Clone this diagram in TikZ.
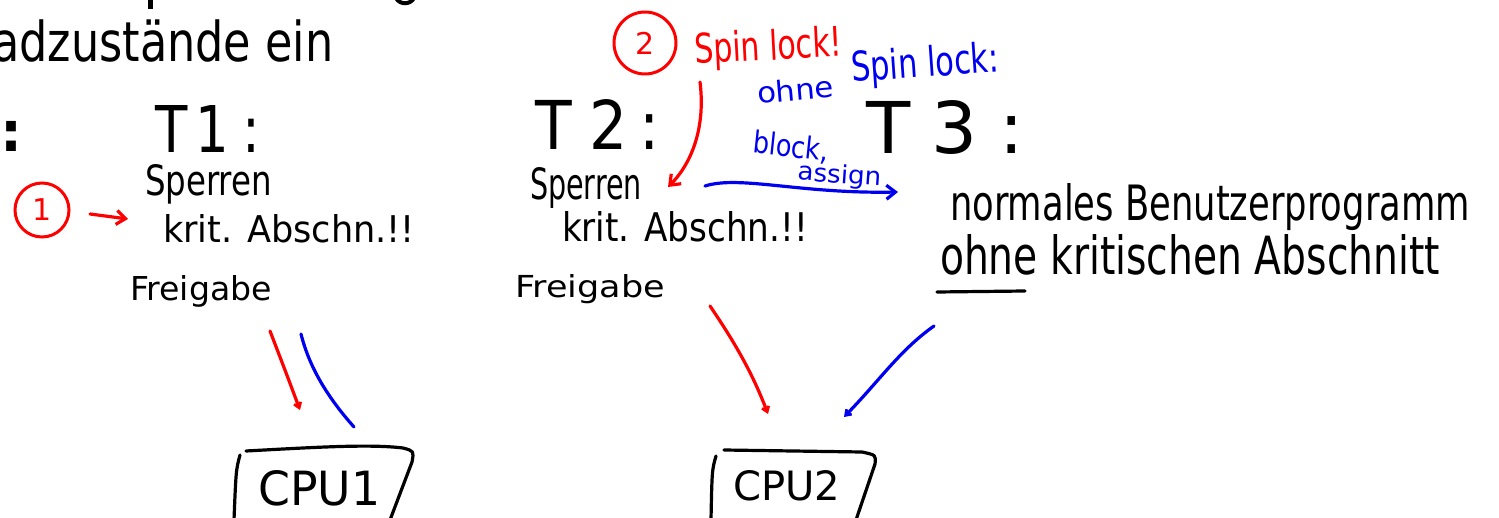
\documentclass[tikz,border=0pt]{standalone}
\usepackage{fontspec}
\setmainfont{DejaVu Sans}
\usepackage{graphicx}
\usetikzlibrary{arrows.meta}
\definecolor{ink}{HTML}{000000}
\definecolor{penred}{HTML}{FF0000}
\definecolor{penblue}{HTML}{0000F0}
% set a text to a given width and height above the baseline (in pt)
\newcommand\fitwh[3]{\resizebox{#1pt}{#2pt}{#3}}
\begin{document}
\begin{tikzpicture}[x=1pt,y=-1pt,
  hand/.style={inner sep=0pt, outer sep=0pt, anchor=base west, text=ink,
    font=\fontsize{30}{30}\selectfont},
  redhand/.style={hand, text=penred},
  bluehand/.style={hand, text=penblue},
  slide/.style={inner sep=0pt, anchor=base west, text=ink,
    font=\fontsize{55}{55}\selectfont},
  pen/.style={line width=3.2pt, line cap=round, line join=round, draw=ink},
  redpen/.style={pen, draw=penred},
  bluepen/.style={pen, draw=penblue},
  tip/.style={-{Straight Barb[length=9pt,width=14pt,line width=3.2pt]}},
  smalltip/.style={-{Straight Barb[length=5pt,width=7pt,line width=2.8pt]}},
  numcircle/.style={circle, draw=penred, line width=3pt, text=penred,
    minimum size=54pt, inner sep=0pt, font=\fontsize{30}{30}\selectfont},
  cpulabel/.style={inner sep=0pt, anchor=base west, text=ink,
    font=\fontsize{30}{30}\selectfont}]
\useasboundingbox (0,0) rectangle (1499,518);

% slide text
\node[slide] (head) at (-8,62) {\scalebox{0.81}[1]{adzustände ein}};
\node[slide, font=\fontsize{55}{55}\bfseries\selectfont] (colon) at (0,152) {:};
% descenders of the line above
\draw[line width=5pt] (150,-2) -- (150,9);
\draw[line width=4pt] (396,-2) .. controls (400,5) and (410,5) .. (414,-2);

% thread T1
\node[hand] (t1) at (155,153) {\fitwh{105}{47}{T\hspace{0.15em}1\hspace{0.25em}:}};
\node[hand] (sp1) at (145,196) {\fitwh{127}{31}{Sperren}};
\node[hand] (ka1) at (163,243) {\fitwh{252}{28}{krit. Abschn.!!}};
\node[hand] (fr1) at (130,301) {\fitwh{142}{25}{Freigabe}};

% thread T2
\node[hand] (t2) at (535,150) {\fitwh{125}{50}{T\hspace{0.3em}2\hspace{0.2em}:}};
\node[hand] (sp2) at (530,200) {\fitwh{112}{32}{Sperren}};
\node[hand] (ka2) at (562,242) {\fitwh{246}{30}{krit. Abschn.!!}};
\node[hand] (fr2) at (515,298) {\fitwh{150}{23}{Freigabe}};

% thread T3
\node[hand] (t3) at (866,154) {\fitwh{158}{53}{T\hspace{0.3em}3\hspace{0.3em}:}};
\node[hand] (nb) at (950,221) {\fitwh{520}{37}{normales Benutzerprogramm}};
\node[hand] (ok) at (940,275) {\fitwh{500}{40}{ohne kritischen Abschnitt}};
\draw[pen] (937,292) -- (1025,291);

% step 1
\node[numcircle] (n1) at (42,210) {1};
\draw[redpen, tip] (90,214) -- (128,219);

% step 2: spin lock
\node[numcircle, minimum size=62pt] (n2) at (645,43) {2};
\node[redhand, rotate=3] (spin) at (695,64) {\fitwh{148}{31}{Spin lock!}};
\coordinate (sp2tip) at (668,187);
\draw[redpen, tip] (700,82) .. controls (706,130) and (690,165) .. (sp2tip);

% without spin lock
\node[bluehand, rotate=5] (ohne) at (758,104) {\fitwh{77}{22}{ohne}};
\node[bluehand, rotate=4] (nospin) at (852,82) {\fitwh{148}{31}{Spin lock:}};
\node[bluehand, rotate=-6] (block) at (752,153) {\fitwh{76}{23}{block,}};
\node[bluehand, rotate=-4] (assign) at (797,180) {\fitwh{84}{19}{assign}};
\coordinate (bl0) at (705,186);
\coordinate (bl1) at (898,192);
\draw[bluepen, tip] (bl0) .. controls (740,175) and (800,194) .. (bl1);

% processors
\node[cpulabel] (cpu1) at (258,505) {\fitwh{122}{35}{CPU1}};
\node[cpulabel] (cpu2) at (733,500) {\fitwh{107}{30}{CPU2}};
\draw[pen] (240,455) .. controls (236,470) .. (234,520);
\draw[pen] (246,451) .. controls (320,447) and (370,444) .. (403,448)
  .. controls (414,451) .. (412,462) -- (390,520);
\draw[pen] (716,456) .. controls (712,470) .. (711,520);
\draw[pen] (724,450) -- (862,452) .. controls (876,455) .. (875,464) -- (856,520);

% assignment of the threads to the processors
\coordinate (a1) at (270,331);
\coordinate (a1e) at (300,410);
\coordinate (b1) at (301,334);
\coordinate (b1e) at (354,427);
\coordinate (a2) at (710,306);
\coordinate (a2e) at (768,414);
\coordinate (b2) at (934,326);
\coordinate (b2e) at (844,417);
\draw[redpen, smalltip] (a1) .. controls (285,370) .. (a1e);
\draw[bluepen] (b1) .. controls (310,370) and (330,400) .. (b1e);
\draw[redpen, smalltip] (a2) .. controls (740,350) and (755,380) .. (a2e);
\draw[bluepen, smalltip] (b2) .. controls (900,350) and (880,380) .. (b2e);
\end{tikzpicture}
\end{document}
